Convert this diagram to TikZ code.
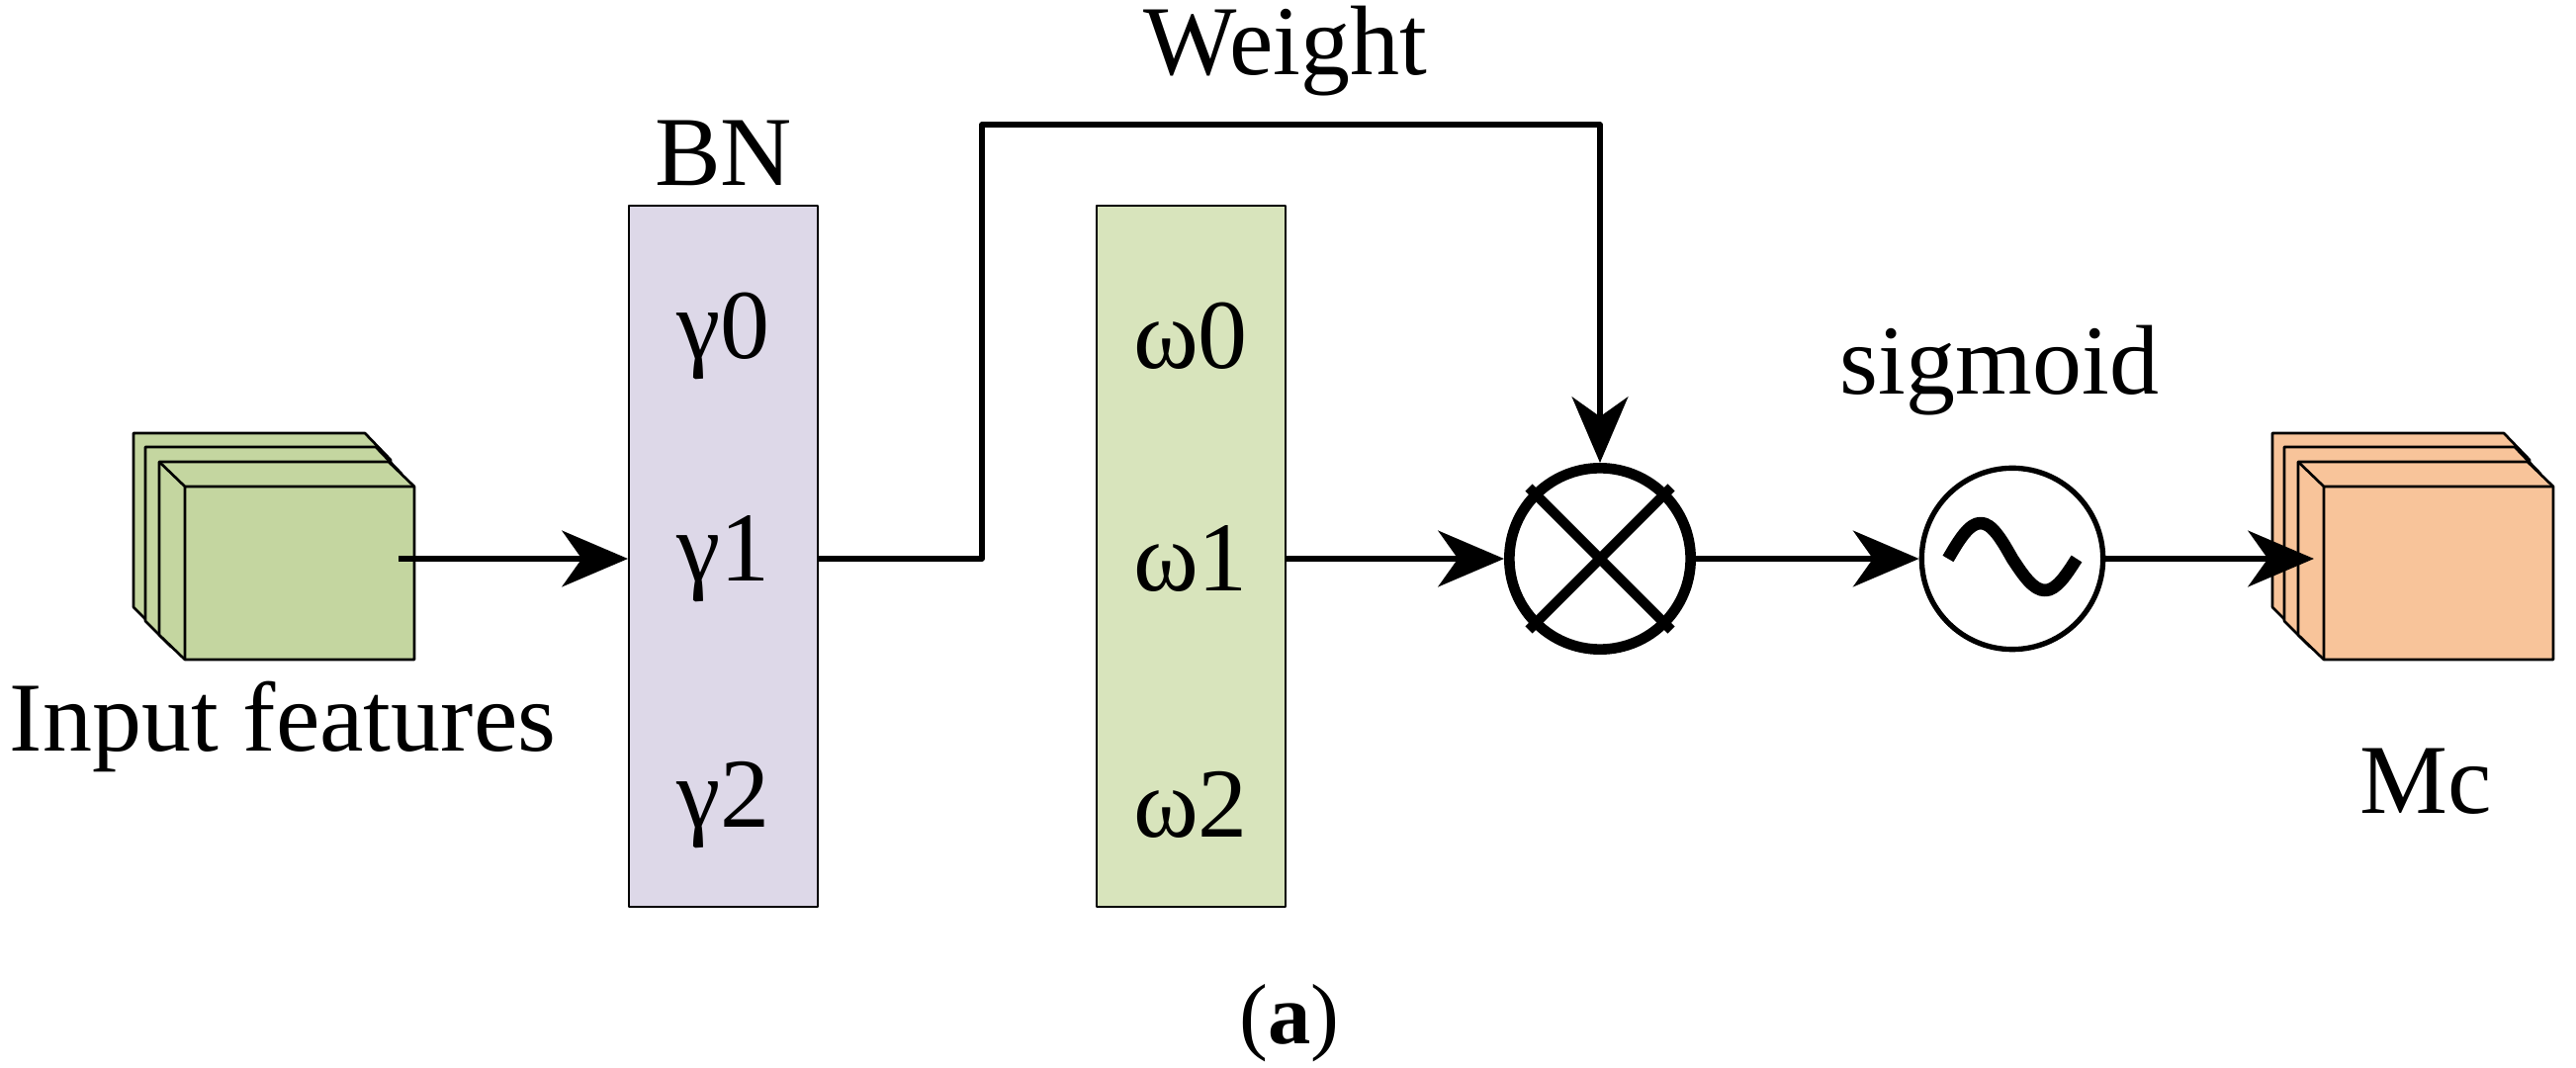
\documentclass[tikz,border=0pt]{standalone}
\usepackage{fontspec}
\setmainfont{Liberation Serif}
\usetikzlibrary{arrows.meta}
\definecolor{inG}{HTML}{C4D6A0}
\definecolor{outO}{HTML}{F8C49A}
\definecolor{bnC}{HTML}{DDD8E8}
\definecolor{wC}{HTML}{D8E4BC}
\begin{document}
\begin{tikzpicture}[x=0.3pt,y=-0.3pt,
  line join=round,
  ln/.style={line width=1.6pt},
  arr/.style={ln,-{Stealth[length=20pt,width=17pt,inset=6pt]}},
  col/.style={draw,line width=0.6pt,minimum width=57.3pt,minimum height=212.7pt,inner sep=0pt},
  lbl/.style={font=\fontsize{30}{30}\selectfont},
  slab/.style={draw,line width=0.8pt}]
\useasboundingbox (0,0) rectangle (2605,1080);
% stacks
\foreach \dx/\c in {0/inG,2163/outO}{
 \begin{scope}[xshift=\dx*0.3pt]
  \filldraw[slab,fill=\c] (135,438)--(369,438)--(395,465)--(395,640)--(161,640)--(135,614)--cycle;
  \filldraw[slab,fill=\c] (147,452)--(380,452)--(406,479)--(406,654)--(173,654)--(147,628)--cycle;
  \draw[slab] (147,452)--(147,628);
  \filldraw[slab,fill=\c] (161,467)--(393,467)--(419,492)--(419,667)--(187,667)--(161,642)--cycle;
  \draw[slab] (161,467)--(187,492)--(419,492) (187,492)--(187,667);
 \end{scope}}
\node[lbl] (inl) at (286,735) {Input features};
\node[lbl] (mcl) at (2453,790) {Mc};
\coordinate (instart) at (403,565);
\coordinate (outend) at (2340,565);
% columns
\node[col,fill=bnC] (bn) at (731.5,562.5) {};
\node[col,fill=wC] (wt) at (1204,562.5) {};
\node[lbl] (bnl) at (731.5,155) {BN};
\node[lbl] (g0) at (731.5,340) {γ0};
\node[lbl] (g1) at (731.5,565) {γ1};
\node[lbl] (g2) at (731.5,814) {γ2};
\node[lbl] (w0) at (1204,340) {ω0};
\node[lbl] (w1) at (1204,565) {ω1};
\node[lbl] (w2) at (1204,814) {ω2};
% operators
\node[draw,circle,line width=3.2pt,minimum size=55pt,inner sep=0pt] (mul) at (1618,565) {};
\draw[line width=3pt,line cap=butt] ([shift={(-72,-72)}]mul.center)--([shift={(72,72)}]mul.center)
  ([shift={(72,-72)}]mul.center)--([shift={(-72,72)}]mul.center);
\node[draw,circle,line width=1.6pt,minimum size=55pt,inner sep=0pt] (sig) at (2035,565) {};
\draw[line width=3.8pt] ([shift={(-65,0)}]sig.center) sin ([shift={(-32,-36)}]sig.center) cos (sig.center) sin ([shift={(33,32)}]sig.center) cos ([shift={(65,0)}]sig.center);
\node[lbl] (sigl) at (2022,375) {sigmoid};
\node[lbl] (wl) at (1300,52) {Weight};
\node[font=\fontsize{26}{26}\selectfont] (cap) at (1304,1035) {(\textbf{a})};
% connectors
\draw[arr] (instart) -- (bn.west|-instart);
\draw[arr] (bn.east|-instart) -- (993,565) -- (993,126) -- (1618,126) -- (mul.north);
\draw[arr] (wt.east|-mul) -- (mul.west);
\draw[arr] (mul.east) -- (sig.west);
\draw[arr] (sig.east) -- (outend);
\end{tikzpicture}
\end{document}
